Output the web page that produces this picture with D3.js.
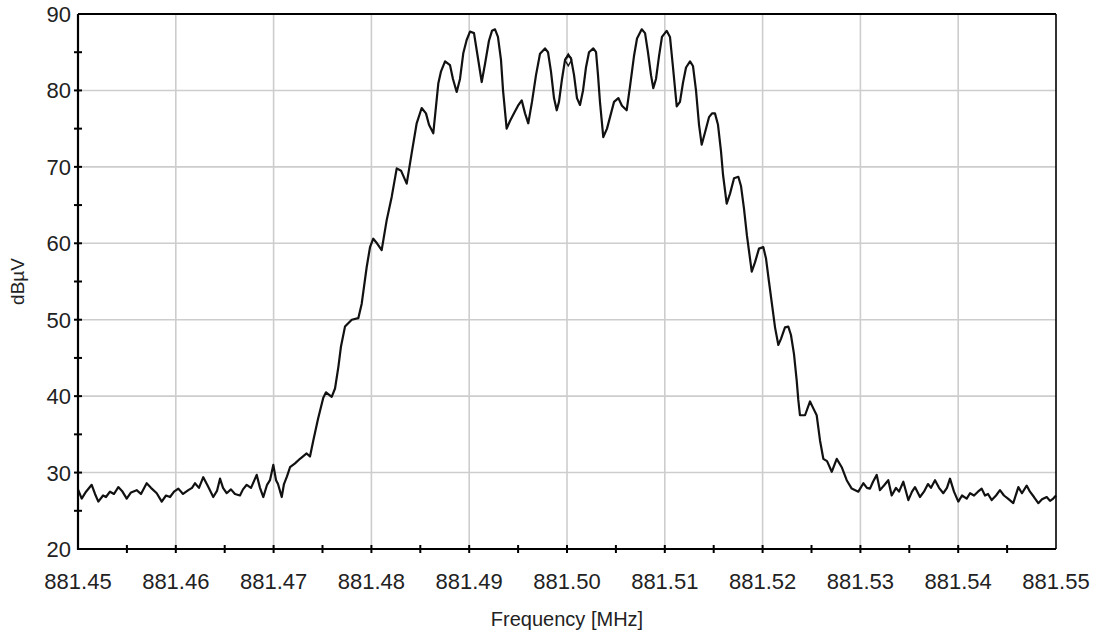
<!DOCTYPE html>
<html>
<head>
<meta charset="utf-8">
<script src="https://cdn.jsdelivr.net/npm/d3@7"></script>
<style>
  html, body { margin: 0; padding: 0; background: #fff; }
  svg { display: block; }
  .tick_lbl { font-family: "Liberation Sans", Arial, sans-serif; font-size: 22px; fill: #222; }
  .axis_title { font-family: "Liberation Sans", Arial, sans-serif; fill: #222; }
</style>
</head>
<body>
<svg id="chart" width="1099" height="634"></svg>
<script>
//---DATA
var freqs = [
  881.45000, 881.45038, 881.45082, 881.45140, 881.45174, 881.45208, 881.45256, 881.45286, 881.45327, 881.45368,
  881.45412, 881.45450, 881.45498, 881.45542, 881.45600, 881.45644, 881.45702, 881.45746, 881.45805, 881.45856,
  881.45900, 881.45941, 881.45982, 881.46026, 881.46074, 881.46128, 881.46166, 881.46196, 881.46237, 881.46281,
  881.46329, 881.46383, 881.46421, 881.46452, 881.46483, 881.46520, 881.46564, 881.46605, 881.46656, 881.46687,
  881.46725, 881.46769, 881.46827, 881.46861, 881.46895, 881.46933, 881.46963, 881.46997, 881.47025, 881.47045,
  881.47083, 881.47106, 881.47137, 881.47168, 881.47219, 881.47270, 881.47338, 881.47372, 881.47406, 881.47454,
  881.47508, 881.47536, 881.47594, 881.47628, 881.47662, 881.47689, 881.47730, 881.47799, 881.47866, 881.47901,
  881.47952, 881.47986, 881.48019, 881.48057, 881.48105, 881.48156, 881.48208, 881.48259, 881.48303, 881.48361,
  881.48412, 881.48463, 881.48514, 881.48558, 881.48589, 881.48633, 881.48684, 881.48712, 881.48753, 881.48804,
  881.48834, 881.48872, 881.48906, 881.48940, 881.48974, 881.49008, 881.49049, 881.49080, 881.49128, 881.49162,
  881.49202, 881.49233, 881.49264, 881.49294, 881.49325, 881.49346, 881.49383, 881.49417, 881.49458, 881.49499,
  881.49537, 881.49571, 881.49604, 881.49642, 881.49683, 881.49724, 881.49775, 881.49806, 881.49836, 881.49867,
  881.49895, 881.49918, 881.49949, 881.49980, 881.50013, 881.50041, 881.50072, 881.50102, 881.50133, 881.50164,
  881.50194, 881.50225, 881.50269, 881.50297, 881.50317, 881.50337, 881.50371, 881.50409, 881.50450, 881.50481,
  881.50525, 881.50562, 881.50610, 881.50644, 881.50685, 881.50716, 881.50764, 881.50798, 881.50828, 881.50859,
  881.50882, 881.50910, 881.50941, 881.50971, 881.51019, 881.51053, 881.51084, 881.51122, 881.51155, 881.51186,
  881.51217, 881.51258, 881.51288, 881.51319, 881.51350, 881.51377, 881.51411, 881.51452, 881.51483, 881.51513,
  881.51544, 881.51575, 881.51595, 881.51633, 881.51667, 881.51708, 881.51752, 881.51779, 881.51810, 881.51840,
  881.51889, 881.51922, 881.51963, 881.52007, 881.52035, 881.52065, 881.52096, 881.52127, 881.52161, 881.52188,
  881.52229, 881.52263, 881.52290, 881.52321, 881.52349, 881.52365, 881.52382, 881.52434, 881.52485, 881.52515,
  881.52553, 881.52587, 881.52621, 881.52659, 881.52707, 881.52758, 881.52809, 881.52860, 881.52911, 881.52979,
  881.53030, 881.53067, 881.53098, 881.53129, 881.53167, 881.53200, 881.53241, 881.53285, 881.53320, 881.53364,
  881.53395, 881.53439, 881.53490, 881.53528, 881.53558, 881.53609, 881.53650, 881.53691, 881.53722, 881.53763,
  881.53804, 881.53848, 881.53885, 881.53916, 881.53957, 881.54001, 881.54039, 881.54087, 881.54121, 881.54162,
  881.54202, 881.54240, 881.54274, 881.54305, 881.54343, 881.54387, 881.54427, 881.54468, 881.54509, 881.54563,
  881.54615, 881.54652, 881.54700, 881.54734, 881.54775, 881.54819, 881.54857, 881.54905, 881.54939, 881.54972,
  881.55000
];
var levels = [
  27.8, 26.6, 27.5, 28.4, 27.2, 26.2, 27.0, 26.8, 27.5, 27.2,
  28.1, 27.6, 26.6, 27.4, 27.7, 27.2, 28.6, 28.0, 27.3, 26.2,
  27.0, 26.8, 27.5, 27.9, 27.2, 27.7, 28.0, 28.6, 28.0, 29.4,
  28.2, 26.8, 27.6, 29.2, 28.0, 27.3, 27.8, 27.2, 27.0, 27.8,
  28.4, 28.0, 29.7, 28.0, 26.8, 28.4, 29.0, 31.0, 29.0, 28.5,
  26.8, 28.5, 29.5, 30.7, 31.2, 31.8, 32.5, 32.1, 34.2, 37.0,
  39.8, 40.5, 39.9, 41.0, 43.8, 46.5, 49.1, 50.0, 50.2, 52.1,
  56.9, 59.5, 60.6, 60.0, 59.1, 63.0, 66.1, 69.8, 69.5, 67.8,
  71.8, 75.7, 77.7, 77.0, 75.5, 74.4, 80.9, 82.5, 83.8, 83.3,
  81.5, 79.8, 81.5, 84.9, 86.6, 87.7, 87.5, 85.0, 81.1, 83.5,
  86.5, 87.8, 88.0, 87.0, 84.0, 80.0, 75.0, 76.0, 77.0, 78.0,
  78.7, 77.0, 75.7, 78.5, 82.0, 84.8, 85.5, 85.0, 82.5, 79.0,
  77.4, 78.5, 81.5, 84.0, 84.6, 84.2, 82.0, 79.0, 78.1, 80.0,
  83.0, 85.0, 85.5, 85.0, 82.0, 78.5, 73.9, 75.0, 77.0, 78.5,
  79.0, 78.0, 77.4, 80.5, 84.5, 86.8, 88.0, 87.5, 85.0, 82.0,
  80.3, 81.5, 84.5, 87.0, 87.8, 87.0, 83.0, 77.9, 78.5, 81.0,
  83.0, 83.8, 83.2, 80.0, 75.5, 72.9, 74.5, 76.5, 77.0, 77.0,
  75.5, 72.0, 69.0, 65.2, 66.5, 68.5, 68.7, 67.5, 64.5, 61.0,
  56.3, 57.5, 59.3, 59.5, 58.0, 55.0, 52.0, 49.0, 46.7, 47.5,
  49.0, 49.1, 48.0, 45.5, 42.0, 39.5, 37.5, 37.5, 39.3, 38.5,
  37.5, 34.2, 31.8, 31.5, 30.1, 31.8, 30.7, 29.0, 27.9, 27.5,
  28.6, 28.0, 27.9, 28.8, 29.7, 27.7, 28.3, 29.0, 27.0, 28.0,
  27.5, 28.8, 26.4, 27.5, 28.1, 26.8, 27.5, 28.5, 28.0, 29.0,
  28.0, 27.3, 28.0, 29.2, 27.5, 26.2, 27.0, 26.6, 27.3, 27.0,
  27.5, 27.9, 27.0, 27.2, 26.4, 27.0, 27.7, 27.0, 26.6, 26.0,
  28.1, 27.3, 28.3, 27.5, 26.8, 26.0, 26.5, 26.8, 26.3, 26.6,
  27.0
];
// marker on the trace
var marker = [881.50013, 84.0];

var x_ticks = [881.45, 881.46, 881.47, 881.48, 881.49, 881.50, 881.51, 881.52, 881.53, 881.54, 881.55];
var y_ticks = [20, 30, 40, 50, 60, 70, 80, 90];
var x_title = 'Frequency [MHz]';
var y_title = 'dB\u00b5V';

(function() {
  'use strict';

  var svg = d3.select('#chart');

  //-----SIZES
  var left = 78, right = 1056, top = 14, bottom = 549;
  var tick_in = 4, tick_out = 4;

  //----SCALES
  var x = d3.scaleLinear().domain([881.45, 881.55]).range([left, right]);
  var y = d3.scaleLinear().domain([20, 90]).range([bottom, top]);

  var minor_x = d3.range(0, x_ticks.length - 1).map(function(i) {
    return (x_ticks[i] + x_ticks[i + 1]) / 2;
  });
  var minor_y = d3.range(0, y_ticks.length - 1).map(function(i) {
    return (y_ticks[i] + y_ticks[i + 1]) / 2;
  });

  //---GRID
  var grid = svg.append('g').attr('class', 'grid');
  grid.selectAll('line.gx')
    .data(x_ticks.slice(1, -1))
    .enter().append('line')
    .attr('x1', function(d) { return x(d); })
    .attr('x2', function(d) { return x(d); })
    .attr('y1', top).attr('y2', bottom)
    .style('stroke', '#cdcdcd').style('stroke-width', 1.6);
  grid.selectAll('line.gy')
    .data(y_ticks.slice(1, -1))
    .enter().append('line')
    .attr('y1', function(d) { return y(d); })
    .attr('y2', function(d) { return y(d); })
    .attr('x1', left).attr('x2', right)
    .style('stroke', '#cdcdcd').style('stroke-width', 1.6);

  //---TRACE
  var pts = freqs.map(function(f, i) { return [f, levels[i]]; });
  var line = d3.line()
    .x(function(d) { return x(d[0]); })
    .y(function(d) { return y(d[1]); });

  svg.append('path')
    .datum(pts)
    .attr('d', line)
    .style('fill', 'none')
    .style('stroke', '#111')
    .style('stroke-width', 2.2)
    .style('stroke-linejoin', 'round');

  svg.append('path')
    .attr('d', d3.symbol().type(d3.symbolDiamond).size(40)())
    .attr('transform', 'translate(' + x(marker[0]) + ',' + y(marker[1]) + ')')
    .style('fill', 'none')
    .style('stroke', '#111')
    .style('stroke-width', 1.4);

  //---FRAME
  var frame = svg.append('g').attr('class', 'frame');
  frame.append('line').attr('x1', left).attr('x2', right).attr('y1', top).attr('y2', top)
    .style('stroke', '#000').style('stroke-width', 2);
  frame.append('line').attr('x1', right).attr('x2', right).attr('y1', top).attr('y2', bottom)
    .style('stroke', '#000').style('stroke-width', 1.6);
  frame.append('line').attr('x1', left).attr('x2', left).attr('y1', top).attr('y2', bottom + 1)
    .style('stroke', '#000').style('stroke-width', 2.2);
  frame.append('line').attr('x1', left - 1).attr('x2', right).attr('y1', bottom).attr('y2', bottom)
    .style('stroke', '#000').style('stroke-width', 2.2);

  //---TICKS (crossing the axis lines)
  frame.selectAll('line.tx')
    .data(x_ticks.slice(1, -1).concat(minor_x))
    .enter().append('line')
    .attr('x1', function(d) { return x(d); })
    .attr('x2', function(d) { return x(d); })
    .attr('y1', bottom - tick_in).attr('y2', bottom + tick_out)
    .style('stroke', '#000').style('stroke-width', 2);
  frame.selectAll('line.ty')
    .data(y_ticks.slice(1, -1).concat(minor_y))
    .enter().append('line')
    .attr('y1', function(d) { return y(d); })
    .attr('y2', function(d) { return y(d); })
    .attr('x1', left - tick_out).attr('x2', left + tick_in)
    .style('stroke', '#000').style('stroke-width', 2);

  //---TICK LABELS
  svg.selectAll('text.xl')
    .data(x_ticks)
    .enter().append('text')
    .attr('class', 'tick_lbl')
    .attr('x', function(d) { return x(d); })
    .attr('y', 589)
    .attr('text-anchor', 'middle')
    .text(function(d) { return d3.format('.2f')(d); });

  svg.selectAll('text.yl')
    .data(y_ticks)
    .enter().append('text')
    .attr('class', 'tick_lbl')
    .attr('x', 71)
    .attr('y', function(d) { return y(d) + 8; })
    .attr('text-anchor', 'end')
    .text(function(d) { return d; });

  //---AXIS TITLES
  svg.append('text')
    .attr('class', 'axis_title')
    .attr('x', (left + right) / 2)
    .attr('y', 626)
    .attr('text-anchor', 'middle')
    .style('font-size', '20px')
    .text(x_title);

  svg.append('text')
    .attr('class', 'axis_title')
    .attr('transform', 'translate(24,' + ((top + bottom) / 2) + ') rotate(-90)')
    .attr('text-anchor', 'middle')
    .style('font-size', '19px')
    .text(y_title);

})();
</script>
</body>
</html>
